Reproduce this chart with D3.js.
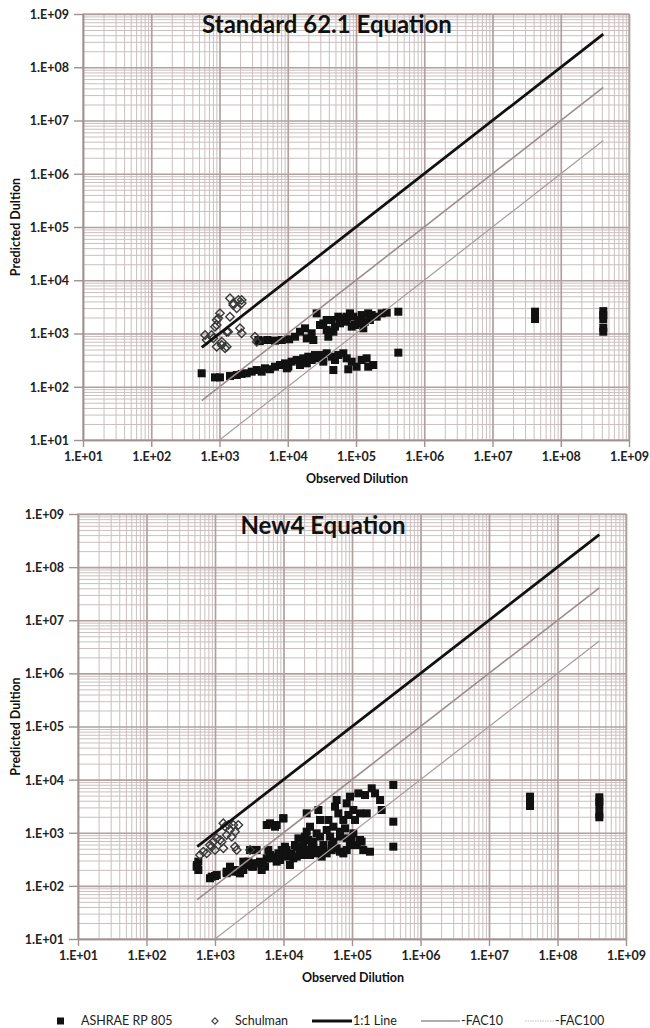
<!DOCTYPE html>
<html>
<head>
<meta charset="utf-8">
<script src="https://cdn.jsdelivr.net/npm/d3@7"></script>
<style>
  body { margin: 0; background: #fff; }
  svg { display: block; font-family: Lato, "Open Sans", sans-serif; }
</style>
</head>
<body>
<div id="chart"></div>
<script>
// ---- data (observed dilution, predicted dilution) ----
const decadeTicks = [1e1, 1e2, 1e3, 1e4, 1e5, 1e6, 1e7, 1e8, 1e9];

const std621Ashrae = [
  // upper band
  [3710, 755], [3900, 720], [5020, 755], [6500, 733], [8150, 755], [10500, 778], [12800, 870],
  [15100, 1080], [17900, 1250], [19000, 810], [22400, 1010], [23700, 755], [26500, 2390],
  [29700, 1445], [33200, 1550], [37200, 1160], [39300, 870], [44000, 1795], [49200, 1345],
  [55100, 2070], [58300, 1550], [65200, 1930], [73100, 1665], [81700, 2390], [91400, 2070],
  [96700, 1445], [108000, 1795], [121000, 2220], [128000, 1250], [135000, 1665], [151000, 2390],
  [170000, 2220], [201000, 2070], [238000, 2390], [282000, 2460], [417000, 2565],
  [37200, 1795], [73100, 2070], [121000, 1550], [46600, 1080], [86500, 1345], [160000, 1795],
  // lower band
  [548, 179], [859, 150], [1016, 150], [1425, 159], [1790, 166], [2110, 174], [2500, 179],
  [2960, 192], [3510, 206], [4150, 192], [4640, 222], [5500, 213], [6500, 238], [7700, 256],
  [9120, 275], [10200, 238], [11400, 296], [13500, 318], [15100, 256], [16900, 342],
  [20000, 367], [22400, 318], [25100, 394], [28100, 342], [31400, 394], [37200, 425],
  [44000, 367], [49200, 318], [55100, 394], [65200, 425], [73100, 342], [86500, 296],
  [102000, 238], [121000, 318], [143000, 342], [151000, 238], [179000, 256], [417000, 437],
  [46600, 206], [77100, 213], [19000, 275], [33200, 296], [9700, 222],
  // far right
  [4.2e7, 2570], [4.2e7, 1870], [4.2e8, 2630], [4.2e8, 2210], [4.2e8, 1850], [4.2e8, 1280], [4.2e8, 1080]
];

const std621Schulman = [
  [1425, 4580], [1590, 3690], [2110, 4260], [1790, 2970], [1015, 2390], [960, 1930], [910, 1445],
  [1425, 2070], [1275, 1080], [1995, 1255], [2110, 1010], [614, 937], [649, 755], [811, 813],
  [910, 565], [1077, 608], [1205, 527], [3310, 871], [3510, 701], [1890, 4260], [2110, 3690],
  [1590, 3430], [859, 1345], [1340, 1080], [765, 937], [1077, 701], [1275, 565], [910, 1795]
];

const new4Ashrae = [
  [571, 286], [540, 230], [571, 199], [545, 247], [845, 139], [1000, 153], [895, 149], [1060, 160],
  [1655, 230], [1480, 185], [1960, 199], [2320, 172], [2590, 286], [1480, 173], [1655, 214],
  [1850, 185], [2190, 185], [2590, 199], [2900, 247], [3440, 230], [3840, 266], [4540, 285],
  [5080, 247], [5690, 330], [6360, 381], [7110, 354], [8410, 410], [9420, 473], [10500, 546],
  [3245, 473], [3840, 473], [3070, 286], [3630, 230], [4300, 266], [4800, 199], [5370, 230],
  [6010, 473], [4060, 473], [5690, 1400], [7520, 1300], [9930, 1870],
  [6360, 1503], [7950, 1400], [9950, 1867], [6720, 330], [7950, 286], [8890, 355], [9950, 409],
  [11100, 473], [12400, 247], [13900, 330], [14700, 587], [16500, 785], [17400, 473], [19500, 381],
  [20600, 844], [21800, 2320], [24400, 1300], [25800, 547], [27300, 680], [28900, 409], [30500, 975],
  [32300, 2680], [34100, 1740], [36100, 355], [38200, 587], [42700, 1127], [45200, 1740],
  [47800, 844], [50500, 473], [53400, 1300], [56500, 3100], [59700, 4130], [63200, 2320],
  [66800, 844], [74700, 1740], [79100, 1210], [83600, 3580], [88400, 2160], [93500, 4780],
  [98900, 730], [104600, 2680], [110700, 1740], [117000, 587], [123700, 5520], [131000, 2320],
  [138000, 680], [146000, 473], [155000, 5130], [164000, 2320], [183000, 440], [194000, 6860],
  [217000, 5520], [257000, 4130], [271000, 2680], [401000, 7930], [401000, 1615], [401000, 547],
  [8890, 307], [11100, 355], [13200, 409], [15600, 355], [18400, 440], [21800, 473], [24400, 381],
  [15600, 547], [19500, 632], [23000, 730], [27300, 509], [32300, 473], [38200, 440], [42700, 409],
  [50500, 587], [59700, 509], [66800, 440], [74700, 409], [83600, 473], [93500, 587],
  [21800, 1048], [34100, 844], [53400, 680], [66800, 1048], [83600, 785], [104600, 975], [131000, 730],
  // far right
  [3.97e7, 4780], [3.97e7, 3850], [3.97e7, 3190],
  [4.08e8, 4650], [4.08e8, 3850], [4.08e8, 3190], [4.08e8, 2250], [4.08e8, 1955]
];

const new4Schulman = [
  [1325, 1505], [1565, 1400], [1850, 1400], [2190, 1400], [1655, 1127], [1960, 1048], [1480, 907],
  [1755, 844], [1060, 785], [945, 680], [1183, 731], [895, 546], [1000, 473], [1325, 509],
  [1960, 546], [675, 440], [604, 381], [757, 410], [2075, 473], [1253, 680], [845, 587],
  [1400, 1305], [3250, 473]
];

// extent of the reference lines (x from / to)
const std621LineX = [550, 4.2e8];
const new4LineX = [550, 4.08e8];

// reference lines: predicted = observed / factor
const refLines = [
  { name: "1:1 Line", factor: 1 },
  { name: "-FAC10", factor: 10 },
  { name: "-FAC100", factor: 100 }
];

// ---- layout ----
const width = 650, height = 1028;
const lineStyle = {
  "1:1 Line": { stroke: "#111", width: 2.8 },
  "-FAC10": { stroke: "#9c8c8c", width: 1.6 },
  "-FAC100": { stroke: "#a89a9a", width: 1.2 }
};

const panels = [
  { title: "Standard 62.1 Equation", ashrae: std621Ashrae, schulman: std621Schulman, lineX: std621LineX,
    box: { left: 83, right: 629, top: 14, bottom: 440 }, titleX: 327, titleY: 33 },
  { title: "New4 Equation", ashrae: new4Ashrae, schulman: new4Schulman, lineX: new4LineX,
    box: { left: 78, right: 626, top: 514, bottom: 939 }, titleX: 323, titleY: 534 }
];

const svg = d3.select("#chart")
  .append("svg")
  .attr("width", width)
  .attr("height", height);

svg.append("rect").attr("width", width).attr("height", height).attr("fill", "#fff");

const fmtTick = d => "1.E+" + String(Math.round(Math.log10(d))).padStart(2, "0");

const drawPanel = (p, i) => {
  const b = p.box;
  const x = d3.scaleLog().domain([1e1, 1e9]).range([b.left, b.right]);
  const y = d3.scaleLog().domain([1e1, 1e9]).range([b.bottom, b.top]);
  const g = svg.append("g");

  // minor grid (2..9 inside each decade)
  const minorX = x.ticks(10).filter(v => !decadeTicks.includes(v));
  const minorY = y.ticks(10).filter(v => !decadeTicks.includes(v));

  g.append("g")
    .attr("transform", `translate(0,${b.bottom})`)
    .call(d3.axisBottom(x).tickValues(minorX).tickSize(-(b.bottom - b.top)).tickFormat(""))
    .call(a => a.select(".domain").remove())
    .call(a => a.selectAll("line").attr("stroke", "#cbbfbf").attr("stroke-width", 1));

  g.append("g")
    .attr("transform", `translate(${b.left},0)`)
    .call(d3.axisLeft(y).tickValues(minorY).tickSize(-(b.right - b.left)).tickFormat(""))
    .call(a => a.select(".domain").remove())
    .call(a => a.selectAll("line").attr("stroke", "#cbbfbf").attr("stroke-width", 1));

  // major grid
  g.append("g")
    .attr("transform", `translate(0,${b.bottom})`)
    .call(d3.axisBottom(x).tickValues(decadeTicks).tickSize(-(b.bottom - b.top)).tickFormat(""))
    .call(a => a.select(".domain").remove())
    .call(a => a.selectAll("line").attr("stroke", "#b0a0a0").attr("stroke-width", 1.7));

  g.append("g")
    .attr("transform", `translate(${b.left},0)`)
    .call(d3.axisLeft(y).tickValues(decadeTicks).tickSize(-(b.right - b.left)).tickFormat(""))
    .call(a => a.select(".domain").remove())
    .call(a => a.selectAll("line").attr("stroke", "#b0a0a0").attr("stroke-width", 1.7));

  // plot border
  g.append("rect")
    .attr("x", b.left).attr("y", b.top)
    .attr("width", b.right - b.left).attr("height", b.bottom - b.top)
    .attr("fill", "none").attr("stroke", "#b0a0a0").attr("stroke-width", 1.2);

  // axes with outside ticks and labels
  const xAxis = g.append("g")
    .attr("transform", `translate(0,${b.bottom})`)
    .call(d3.axisBottom(x).tickValues(decadeTicks).tickFormat(fmtTick).tickSize(7).tickSizeOuter(0).tickPadding(5));
  const yAxis = g.append("g")
    .attr("transform", `translate(${b.left},0)`)
    .call(d3.axisLeft(y).tickValues(decadeTicks).tickFormat(fmtTick).tickSize(9).tickSizeOuter(0).tickPadding(5));

  [xAxis, yAxis].forEach(a => {
    a.select(".domain").attr("stroke", "#a09090").attr("stroke-width", 1.4);
    a.selectAll("line").attr("stroke", "#a09090").attr("stroke-width", 1.4);
    a.selectAll("text")
      .attr("font-family", "Lato, sans-serif")
      .attr("font-size", "12.5px")
      .attr("font-weight", "bold")
      .attr("fill", "#222");
  });
  yAxis.selectAll("text").attr("dy", "0.35em");

  // axis titles
  g.append("text")
    .attr("x", (b.left + b.right) / 2 + 1)
    .attr("y", b.bottom + 43)
    .attr("text-anchor", "middle")
    .attr("font-size", "12.5px")
    .attr("font-weight", "bold")
    .attr("fill", "#111")
    .text("Observed Dilution");

  g.append("text")
    .attr("transform", "rotate(-90)")
    .attr("x", -(b.top + b.bottom) / 2)
    .attr("y", 20)
    .attr("text-anchor", "middle")
    .attr("font-size", "12.5px")
    .attr("font-weight", "bold")
    .attr("fill", "#111")
    .text("Predicted Dultion");

  // clip to plot area
  const clipId = "clip" + i;
  svg.append("clipPath").attr("id", clipId)
    .append("rect")
    .attr("x", b.left).attr("y", b.top)
    .attr("width", b.right - b.left).attr("height", b.bottom - b.top);

  const plot = g.append("g").attr("clip-path", `url(#${clipId})`);

  // ASHRAE RP 805 squares
  plot.selectAll(".ashrae")
    .data(p.ashrae)
    .join("rect")
    .attr("class", "ashrae")
    .attr("x", d => x(d[0]) - 4)
    .attr("y", d => y(d[1]) - 4)
    .attr("width", 8)
    .attr("height", 8)
    .attr("fill", "#111");

  // Schulman open diamonds
  const diamond = d3.symbol().type(d3.symbolDiamond2).size(46);
  plot.selectAll(".schulman")
    .data(p.schulman)
    .join("path")
    .attr("class", "schulman")
    .attr("transform", d => `translate(${x(d[0])},${y(d[1])})`)
    .attr("d", diamond)
    .attr("fill", "none")
    .attr("stroke", "#3a3a3a")
    .attr("stroke-width", 1.4);

  // reference lines
  const line = d3.line().x(d => x(d[0])).y(d => y(d[1]));
  plot.selectAll(".ref")
    .data(refLines.slice().reverse())
    .join("path")
    .attr("class", "ref")
    .attr("d", r => line(p.lineX.map(v => [v, v / r.factor])))
    .attr("fill", "none")
    .attr("stroke", r => lineStyle[r.name].stroke)
    .attr("stroke-width", r => lineStyle[r.name].width);

  // title
  g.append("text")
    .attr("x", p.titleX)
    .attr("y", p.titleY)
    .attr("text-anchor", "middle")
    .attr("font-size", "24px")
    .attr("font-weight", "bold")
    .attr("fill", "#111")
    .text(p.title);
};

panels.forEach(drawPanel);

// ---- legend ----
const legendY = 1021;
const legend = svg.append("g").attr("font-size", "12.5px").attr("fill", "#222");

legend.append("rect").attr("x", 57).attr("y", legendY - 3.5).attr("width", 7).attr("height", 7).attr("fill", "#111");
legend.append("text").attr("x", 81).attr("y", legendY).attr("dy", "0.35em").text("ASHRAE RP 805");

legend.append("path")
  .attr("transform", `translate(215,${legendY})`)
  .attr("d", d3.symbol().type(d3.symbolDiamond2).size(24))
  .attr("fill", "none").attr("stroke", "#444").attr("stroke-width", 1.2);
legend.append("text").attr("x", 235).attr("y", legendY).attr("dy", "0.35em").text("Schulman");

const legendLines = [
  { name: "1:1 Line", x0: 312, x1: 352 },
  { name: "-FAC10", x0: 421, x1: 460 },
  { name: "-FAC100", x0: 525, x1: 554 }
];
legendLines.forEach(l => {
  const s = lineStyle[l.name];
  legend.append("line")
    .attr("x1", l.x0).attr("x2", l.x1)
    .attr("y1", legendY).attr("y2", legendY)
    .attr("stroke", l.name === "-FAC100" ? "#c8bcbc" : s.stroke)
    .attr("stroke-width", l.name === "1:1 Line" ? 3 : s.width)
    .attr("stroke-dasharray", l.name === "-FAC100" ? "1.5,1" : null);
  legend.append("text").attr("x", l.x1 + 1).attr("y", legendY).attr("dy", "0.35em").text(l.name);
});
</script>
</body>
</html>
